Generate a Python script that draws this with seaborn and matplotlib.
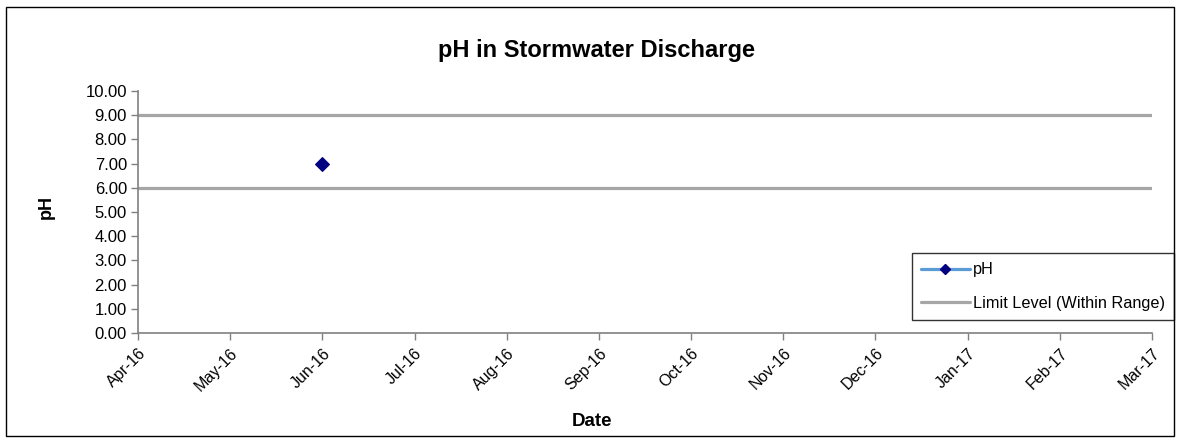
import matplotlib
matplotlib.use("Agg")
import matplotlib.pyplot as plt
import seaborn as sns
import pandas as pd
from matplotlib.patches import Rectangle
from matplotlib.lines import Line2D

months = ["Apr-16", "May-16", "Jun-16", "Jul-16", "Aug-16", "Sep-16",
          "Oct-16", "Nov-16", "Dec-16", "Jan-17", "Feb-17", "Mar-17"]
ph_dates = ["Jun-16"]
ph_values = [7.0]
limit_low = 6.0
limit_high = 9.0

sns.set_theme(style="white")
plt.rcParams["font.family"] = ["Liberation Sans", "DejaVu Sans"]
plt.rcParams["text.color"] = "black"
plt.rcParams["axes.labelcolor"] = "black"
plt.rcParams["xtick.color"] = "black"
plt.rcParams["ytick.color"] = "black"

fig = plt.figure(figsize=(11.81, 4.43), dpi=100)
ax = fig.add_axes([138/1181, 1-333/443, (1152-138)/1181, (333-91)/443])

idx = {m: i for i, m in enumerate(months)}
limit_df = pd.DataFrame({
    "x": [0, len(months)-1, 0, len(months)-1],
    "y": [limit_low, limit_low, limit_high, limit_high],
    "g": ["low", "low", "high", "high"],
})
sns.lineplot(data=limit_df, x="x", y="y", units="g", estimator=None,
             color="#A6A6A6", linewidth=2.3, ax=ax, legend=False)

ph_df = pd.DataFrame({"x": [idx[d] for d in ph_dates], "y": ph_values})
sns.lineplot(data=ph_df, x="x", y="y", color="#5B9BD5", linewidth=2.3,
             marker="D", markersize=7, markerfacecolor="#000080",
             markeredgecolor="#000080", ax=ax, legend=False, zorder=5)

ax.set_xlim(0, len(months)-1)
ax.set_ylim(0, 10)
ax.set_xticks(range(len(months)))
ax.set_xticklabels(months, rotation=45, ha="right", rotation_mode="anchor", fontsize=11.5)
ax.set_yticks([i for i in range(11)])
ax.set_yticklabels([f"{i:.2f}" for i in range(11)], fontsize=12)
ax.tick_params(axis="both", which="both", direction="out", length=5, width=1,
               color="#808080", bottom=True, left=True, pad=3)
ax.tick_params(axis="x", pad=4)
for s in ["top", "right"]:
    ax.spines[s].set_visible(False)
for s in ["left", "bottom"]:
    ax.spines[s].set_color("#808080")
    ax.spines[s].set_linewidth(1.2)

ax.set_xlabel("Date", fontsize=13.5, fontweight="bold")
ax.xaxis.set_label_coords((592-138)/1014, -(422-333)/242, transform=None) if False else None
ax.xaxis.set_label_coords((592-138)/1014, -(422-333)/242)
ax.xaxis.label.set_va("center")
ax.set_ylabel("pH", fontsize=13, fontweight="bold")
ax.yaxis.set_label_coords(-(138-46)/1014, (333-207)/242)
ax.yaxis.label.set_va("center")
fig.text(597/1181, 1-50/443, "pH in Stormwater Discharge", fontsize=17,
         fontweight="bold", ha="center", va="center")

handles = [
    Line2D([0], [0], color="#5B9BD5", linewidth=2.3, marker="D", markersize=5,
           markerfacecolor="#000080", markeredgecolor="#000080"),
    Line2D([0], [0], color="#A6A6A6", linewidth=2.3),
]
leg = ax.legend(handles, ["pH", "Limit Level (Within Range)"],
                loc="lower right", bbox_to_anchor=(1174/1181, 1-320/443),
                bbox_transform=fig.transFigure, fontsize=11.7, frameon=True,
                fancybox=False, edgecolor="black", handlelength=3.0,
                handletextpad=0.2, labelspacing=1.15, borderpad=0.55,
                borderaxespad=0)
leg.get_frame().set_linewidth(1.0)

fig.patches.append(Rectangle((6/1181, 1-436/443), (1174-6)/1181, (436-7)/443,
                             transform=fig.transFigure, fill=False,
                             edgecolor="black", linewidth=1.0))

fig.savefig("out.png", dpi=100)
